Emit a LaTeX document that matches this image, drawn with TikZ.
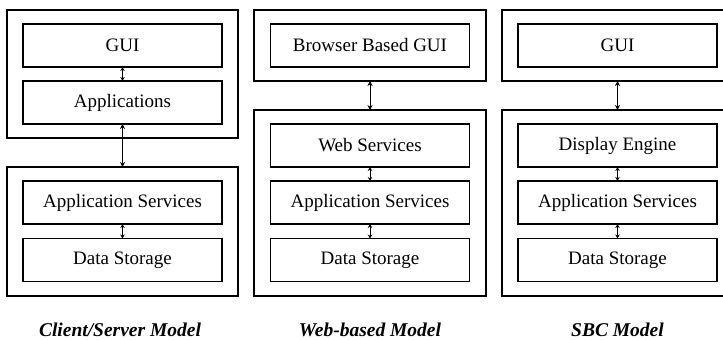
\documentclass[tikz,border=0pt]{standalone}
\usepackage{fontspec}
\setmainfont{Liberation Serif}
\usetikzlibrary{arrows.meta}
\begin{document}
\begin{tikzpicture}[x=1pt,y=-1pt,
  outerbox/.style={draw, line width=1.3pt, rectangle, inner sep=0pt, outer sep=0pt},
  innerbox/.style={draw, line width=1.1pt, rectangle, inner sep=0pt, outer sep=0pt,
     minimum width=199pt, minimum height=43pt, font=\fontsize{19}{22}\selectfont},
  biglink/.style={line width=1pt, {Stealth[length=5pt,width=5pt]}-{Stealth[length=5pt,width=5pt]}},
  smalllink/.style={line width=1pt, {Stealth[length=4pt,width=4.5pt]}-{Stealth[length=4pt,width=4.5pt]}},
  caption/.style={font=\fontsize{19.5}{22}\selectfont\bfseries\itshape}]
\useasboundingbox (0,0) rectangle (723,340);
\clip (0,0) rectangle (723,340);
% Column 1
\node[outerbox, minimum width=231pt, minimum height=128pt] (oA1) at (122.5,74) {};
\node[outerbox, minimum width=231pt, minimum height=129pt] (oB1) at (122.5,231.5) {};
\node[innerbox] (gui1) at (122.5,45.5) {GUI};
\node[innerbox] (app1) at (122.5,102.5) {Applications};
\node[innerbox] (as1) at (122.5,202.5) {Application Services};
\node[innerbox] (ds1) at (122.5,260) {Data Storage};
\draw[smalllink] (gui1.south) -- (app1.north);
\draw[biglink] (app1.south) -- (oB1.north);
\draw[smalllink] (as1.south) -- (ds1.north);
\node[caption] (c1) at (120,330) {Client/Server Model};
% Column 2
\node[outerbox, minimum width=232pt, minimum height=71pt] (oA2) at (370,45.5) {};
\node[outerbox, minimum width=232pt, minimum height=186pt] (oB2) at (370,203) {};
\node[innerbox] (gui2) at (370,45.5) {Browser Based GUI};
\node[innerbox] (ws2) at (370,145.5) {Web Services};
\node[innerbox] (as2) at (370,202.5) {Application Services};
\node[innerbox] (ds2) at (370,260) {Data Storage};
\draw[biglink] (oA2.south) -- (oB2.north);
\draw[smalllink] (ws2.south) -- (as2.north);
\draw[smalllink] (as2.south) -- (ds2.north);
\node[caption] (c2) at (370,330) {Web-based Model};
% Column 3
\node[outerbox, minimum width=231pt, minimum height=71pt] (oA3) at (617.5,45.5) {};
\node[outerbox, minimum width=231pt, minimum height=186pt] (oB3) at (617.5,203) {};
\node[innerbox] (gui3) at (617.5,45.5) {GUI};
\node[innerbox] (de3) at (617.5,145.5) {Display Engine};
\node[innerbox] (as3) at (617.5,202.5) {Application Services};
\node[innerbox] (ds3) at (617.5,260) {Data Storage};
\draw[biglink] (oA3.south) -- (oB3.north);
\draw[smalllink] (de3.south) -- (as3.north);
\draw[smalllink] (as3.south) -- (ds3.north);
\node[caption] (c3) at (617.5,330) {SBC Model};
\end{tikzpicture}
\end{document}
